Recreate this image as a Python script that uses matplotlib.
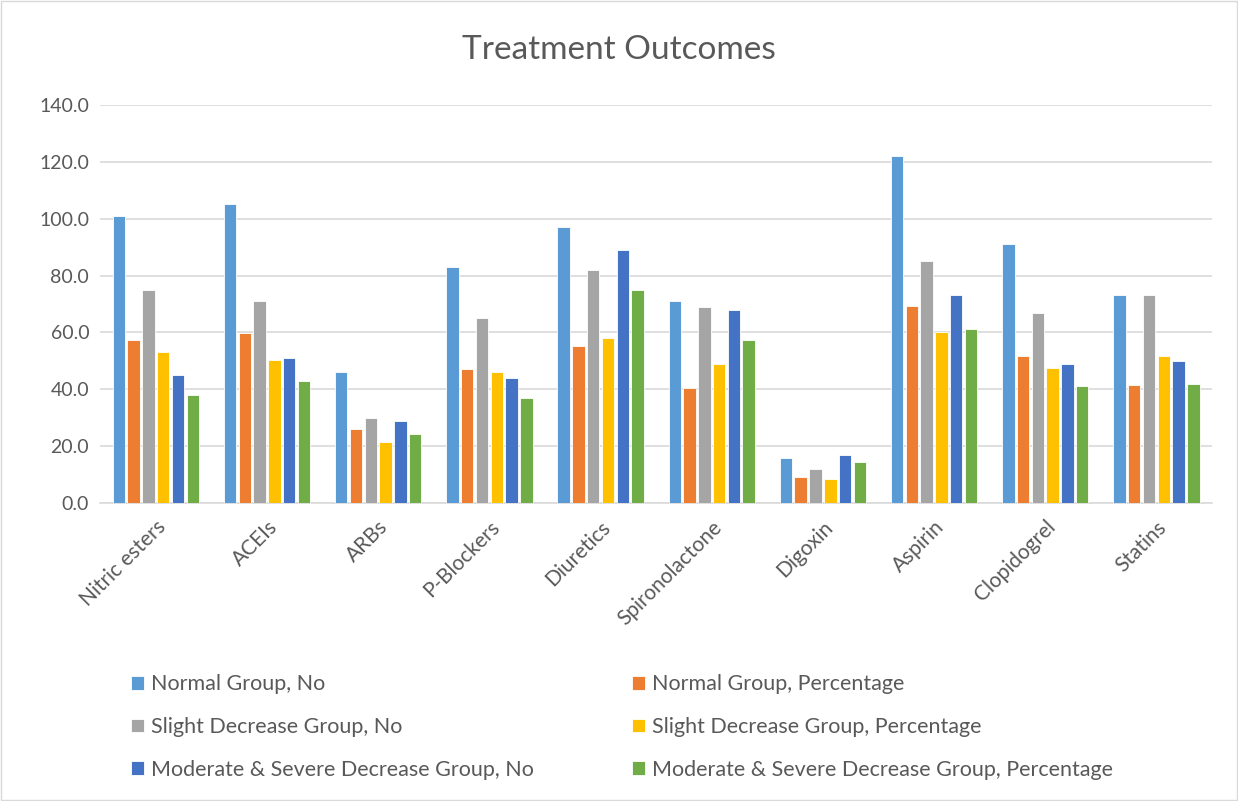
import matplotlib.pyplot as plt
import numpy as np
from matplotlib.patches import Rectangle

categories = ['Nitric esters', 'ACEIs', 'ARBs', 'P-Blockers', 'Diuretics',
              'Spironolactone', 'Digoxin', 'Aspirin', 'Clopidogrel', 'Statins']

normal_no = [101, 105, 46, 83, 97, 71, 16, 122, 91, 73]
normal_pct = [57.4, 59.8, 26.1, 47.2, 55.1, 40.3, 9.1, 69.3, 51.7, 41.5]
slight_no = [75, 71, 30, 65, 82, 69, 12, 85, 67, 73]
slight_pct = [53.2, 50.3, 21.3, 46.2, 58.2, 48.9, 8.5, 60.3, 47.6, 51.8]
mod_no = [45, 51, 29, 44, 89, 68, 17, 73, 49, 50]
mod_pct = [37.9, 43.0, 24.4, 37.1, 75.0, 57.3, 14.3, 61.3, 41.2, 42.0]

series_names = ['Normal Group, No', 'Normal Group, Percentage',
                'Slight Decrease Group, No', 'Slight Decrease Group, Percentage',
                'Moderate & Severe Decrease Group, No',
                'Moderate & Severe Decrease Group, Percentage']
series = [normal_no, normal_pct, slight_no, slight_pct, mod_no, mod_pct]
colors = ['#5B9BD5', '#ED7D31', '#A5A5A5', '#FFC000', '#4472C4', '#70AD47']

plt.rcParams['font.family'] = ['Lato', 'DejaVu Sans']
text_col = '#595959'

fig = plt.figure(figsize=(12.38, 8.01), dpi=100)
ax = fig.add_axes([0.081, 0.372, 0.898, 0.497])

x = np.arange(len(categories))
pitch = 0.133
width = 0.112
bars = []
for i, (vals, name, c) in enumerate(zip(series, series_names, colors)):
    b = ax.bar(x + (i - 2.5) * pitch, vals, width, color=c, label=name,
               edgecolor='white', linewidth=0.6, zorder=3)
    bars.append(b)

ax.set_xlim(-0.5, len(categories) - 0.5)
ax.set_ylim(0, 140)
ax.set_yticks(np.arange(0, 141, 20))
ax.set_yticklabels([f'{v:.1f}' for v in np.arange(0, 141, 20)])
ax.grid(axis='y', color='#d9d9d9', linewidth=1.2, zorder=0)
for s in ['top', 'right', 'left']:
    ax.spines[s].set_visible(False)
ax.spines['bottom'].set_color('#d9d9d9')
ax.spines['bottom'].set_linewidth(1.2)
ax.tick_params(axis='y', length=0, labelsize=14, colors=text_col, pad=8)
ax.tick_params(axis='x', length=0, labelsize=15, colors=text_col, pad=10)
ax.set_xticks(x)
ax.set_xticklabels(categories, rotation=45, ha='right', rotation_mode='anchor')

fig.text(0.5, 0.937, 'Treatment Outcomes', ha='center', va='center',
         fontsize=24, color=text_col)

leg_kw = dict(loc='center left', frameon=False, fontsize=15.5, labelcolor=text_col,
              handlelength=0.6, handleheight=0.6, handletextpad=0.35,
              labelspacing=1.05, borderpad=0, borderaxespad=0)
for k, x0 in enumerate([131 / 1238, 632 / 1238]):
    idx = [k, k + 2, k + 4]
    fig.legend([bars[i] for i in idx], [series_names[i] for i in idx],
               bbox_to_anchor=(x0, 0.0924), **leg_kw)

fig.patches.append(Rectangle((0.001, 0.001), 0.998, 0.998, transform=fig.transFigure,
                             fill=False, edgecolor='#d9d9d9', linewidth=1))

fig.savefig('out.png', dpi=100)
